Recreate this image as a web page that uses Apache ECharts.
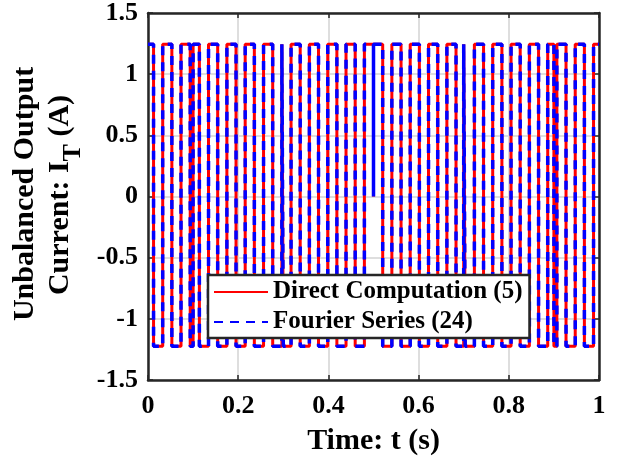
<!DOCTYPE html>
<html><head><meta charset="utf-8">
<script src="https://cdn.jsdelivr.net/npm/echarts@6/dist/echarts.min.js"></script>
<style>html,body{margin:0;padding:0;background:#fff}#c{width:618px;height:461px}</style>
</head><body><div id="c"></div>
<script>
// Switching instants (s); the waveform toggles sign at each one
const switchTimes = [
  0.0123, 0.0326, 0.0529, 0.0732, 0.0936, 0.1000, 0.1139, 0.1342, 0.1545, 0.1749,
  0.1952, 0.2155, 0.2358, 0.2562, 0.2765, 0.2968, 0.3000, 0.3172, 0.3375, 0.3578,
  0.3781, 0.3985, 0.4188, 0.4391, 0.4594, 0.4798, 0.5204, 0.5407, 0.5611, 0.5814,
  0.6017, 0.6220, 0.6424, 0.6627, 0.6830, 0.7000, 0.7033, 0.7237, 0.7440, 0.7643,
  0.7847, 0.8050, 0.8253, 0.8456, 0.8660, 0.8863, 0.9000, 0.9066, 0.9269, 0.9473,
  0.9676, 0.9879
];
// Instants where the trace dips to zero and returns
const zeroDipTimes = [0.5];
const startHigh = true;
const directLevels = { high: 1.245, low: -1.225 };
const fourierLevels = { high: 1.245, low: -1.225 };
const xTicks = [0, 0.2, 0.4, 0.6, 0.8, 1];
const yTicks = [-1.5, -1, -0.5, 0, 0.5, 1, 1.5];
const seriesNames = ['Direct Computation (5)', 'Fourier Series (24)'];
const xTitle = 'Time: t (s)';
const yTitle1 = 'Unbalanced Output';
const yTitle2 = ['Current: I', 'T', ' (A)'];

function buildWave(lv) {
  const pts = [];
  let hi = startHigh;
  const val = () => (hi ? lv.high : lv.low);
  pts.push([xTicks[0], val()]);
  const events = switchTimes.map(t => ({ t, k: 's' }))
    .concat(zeroDipTimes.map(t => ({ t, k: 'z' })))
    .sort((a, b) => a.t - b.t);
  for (const e of events) {
    pts.push([e.t, val()]);
    if (e.k === 's') { hi = !hi; pts.push([e.t, val()]); }
    else { pts.push([e.t, 0]); pts.push([e.t, val()]); }
  }
  pts.push([xTicks[xTicks.length - 1], val()]);
  return pts;
}

const FONT = "'Liberation Serif', 'Times New Roman', serif";
const mctx = document.createElement('canvas').getContext('2d');
function textW(s, size) { mctx.font = 'bold ' + size + 'px ' + FONT; return mctx.measureText(s).width; }

// y title line 2 with subscript, built from measured segments
const mainSize = 30, subSize = 26;
const segW = [textW(yTitle2[0], mainSize), textW(yTitle2[1], subSize), textW(yTitle2[2], mainSize)];
const totalW = segW[0] + segW[1] + segW[2];
const line2X = 60, line2Y = 195, subShift = 13;
const title2Graphics = [];
let off = 0;
yTitle2.forEach((s, i) => {
  title2Graphics.push({
    type: 'text', x: line2X + (i === 1 ? subShift : 0), y: line2Y + totalW / 2 - off, rotation: Math.PI / 2,
    style: { text: s, fontFamily: FONT, fontWeight: 'bold', fontSize: i === 1 ? subSize : mainSize, fill: '#000', align: 'left', verticalAlign: 'middle' }
  });
  off += segW[i];
});

const legendText = { fontFamily: FONT, fontWeight: 'bold', fontSize: 25, color: '#000', lineHeight: 26 };
const chart = echarts.init(document.getElementById('c'), null, { renderer: 'canvas' });
const xInt = xTicks[1] - xTicks[0];
const yInt = yTicks[1] - yTicks[0];
const axisCommon = {
  axisLine: { show: true, onZero: false, lineStyle: { color: '#262626', width: 2.5 } },
  axisTick: { show: true, inside: true, length: 5, lineStyle: { color: '#262626', width: 1.5 } }
};
chart.setOption({
  animation: false,
  backgroundColor: '#fff',
  grid: { left: 148, right: 19, top: 10, bottom: 81 },
  xAxis: [
    Object.assign({
      type: 'value', min: xTicks[0], max: xTicks[xTicks.length - 1], interval: xInt,
      position: 'bottom',
      name: xTitle, nameLocation: 'middle', nameGap: 46,
      nameTextStyle: { fontFamily: FONT, fontWeight: 'bold', fontSize: 30, color: '#000' },
      axisLabel: { margin: 13, fontFamily: FONT, fontWeight: 'bold', fontSize: 26, color: '#000' },
      splitLine: { show: true, lineStyle: { color: '#dedede', width: 2 } }
    }, axisCommon),
    Object.assign({
      type: 'value', min: xTicks[0], max: xTicks[xTicks.length - 1], interval: xInt,
      position: 'top', axisLabel: { show: false }, splitLine: { show: false }
    }, axisCommon)
  ],
  yAxis: [
    Object.assign({
      type: 'value', min: yTicks[0], max: yTicks[yTicks.length - 1], interval: yInt,
      position: 'left',
      axisLabel: { margin: 10, fontFamily: FONT, fontWeight: 'bold', fontSize: 26, color: '#000' },
      splitLine: { show: true, lineStyle: { color: '#dedede', width: 2 } }
    }, axisCommon),
    Object.assign({
      type: 'value', min: yTicks[0], max: yTicks[yTicks.length - 1], interval: yInt,
      position: 'right', axisLabel: { show: false }, splitLine: { show: false }
    }, axisCommon)
  ],
  legend: {
    orient: 'vertical', left: 208, top: 275, z: 20,
    backgroundColor: '#fff', borderColor: '#262626', borderWidth: 2.5, borderRadius: 0,
    padding: [4, 7, 3, 5], itemGap: 4, itemWidth: 54, itemHeight: 14, itemTextGap: 4,
    selectedMode: false,
    itemStyle: { opacity: 0 },
    textStyle: legendText,
    data: seriesNames.map(n => ({ name: n, textStyle: legendText }))
  },
  graphic: [
    {
      type: 'text', x: 25, y: 194, rotation: Math.PI / 2,
      style: { text: yTitle1, fontFamily: FONT, fontWeight: 'bold', fontSize: 30, fill: '#000', align: 'center', verticalAlign: 'middle' }
    }
  ].concat(title2Graphics),
  series: [
    {
      name: seriesNames[0], type: 'line', symbol: 'none', xAxisIndex: 0, yAxisIndex: 0,
      data: buildWave(directLevels), z: 3,
      lineStyle: { color: '#ff0000', width: 3 }, itemStyle: { color: '#ff0000' }
    },
    {
      name: seriesNames[1], type: 'line', symbol: 'none', xAxisIndex: 0, yAxisIndex: 0,
      data: buildWave(fourierLevels), z: 4,
      lineStyle: { color: '#0000ff', width: 3.5, type: [9, 7] }, itemStyle: { color: '#0000ff' }
    }
  ]
});
</script></body></html>
